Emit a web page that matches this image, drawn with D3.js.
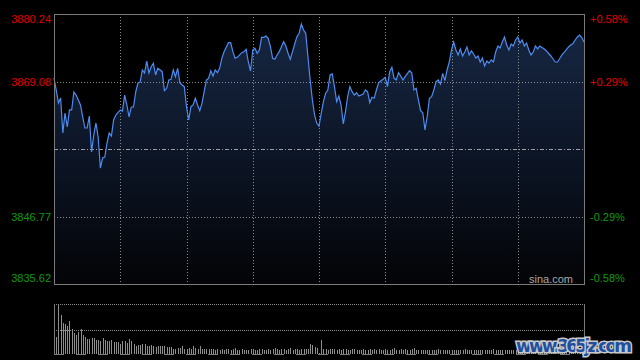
<!DOCTYPE html>
<meta charset="utf-8">
<style>

  body {
    margin: 0;
    background: #000;
    font: 11px "Liberation Sans", Arial, sans-serif;
  }

  .grid line {
    stroke: #8a8a8a;
    stroke-width: 1px;
    stroke-dasharray: 1,2;
    shape-rendering: crispEdges;
  }

  .frame {
    fill: none;
    stroke: #7a7a7a;
    shape-rendering: crispEdges;
  }

  .line {
    fill: none;
    stroke: #4d8cf0;
    stroke-width: 1.2px;
  }

  .vol {
    stroke: #8f8f8f;
    stroke-width: 1px;
    shape-rendering: crispEdges;
  }

</style>
<body>
<script src="https://cdn.jsdelivr.net/npm/d3@7"></script>
<script>

  // Minute index of each read point (0 = 9:30, 120 = 11:30/13:00, 240 = 15:00).
  var minutes = [
    0, 1, 2, 3, 4, 5, 6, 7, 8, 9, 10, 12, 13, 14, 15, 16, 17, 18, 19, 20,
    21, 22, 23, 24, 25, 26, 27, 28, 30, 31, 32, 33, 34, 35, 36, 37, 38, 39, 40, 41,
    42, 43, 44, 45, 46, 47, 49, 50, 51, 52, 53, 54, 55, 56, 57, 58, 59, 60, 61, 62,
    63, 64, 65, 66, 67, 69, 70, 71, 72, 73, 74, 75, 76, 77, 79, 80, 81, 82, 83, 85,
    86, 87, 88, 89, 90, 91, 92, 93, 94, 95, 96, 97, 98, 99, 100, 101, 102, 104, 105, 106,
    107, 108, 109, 110, 111, 112, 113, 114, 115, 116, 117, 118, 119, 120, 121, 122, 123, 124, 125, 126,
    127, 128, 129, 130, 131, 132, 133, 134, 135, 136, 137, 138, 140, 141, 142, 143, 144, 145, 146, 147,
    149, 150, 151, 152, 153, 154, 155, 156, 157, 158, 159, 161, 162, 163, 164, 165, 166, 167, 168, 169,
    170, 171, 172, 173, 174, 175, 176, 177, 178, 179, 180, 181, 182, 183, 184, 185, 186, 187, 188, 189,
    190, 191, 192, 193, 194, 195, 196, 197, 198, 199, 200, 201, 202, 203, 204, 205, 206, 207, 208, 209,
    210, 211, 212, 213, 214, 215, 216, 217, 218, 219, 220, 221, 222, 223, 224, 225, 226, 227, 228, 229,
    230, 231, 232, 233, 234, 235, 236, 237, 238, 239, 240
  ];

  var prices = [
    3869.66, 3867.68, 3865.53, 3866.36, 3860.57, 3863.88, 3861.57, 3864.38, 3864.38, 3867.35,
    3866.85, 3865.20, 3863.22, 3861.40, 3861.40, 3863.38, 3857.43, 3860.24, 3862.23, 3859.91,
    3854.79, 3856.44, 3856.61, 3858.92, 3860.57, 3860.08, 3862.72, 3863.55, 3864.38, 3864.21,
    3866.85, 3865.20, 3863.22, 3864.87, 3864.87, 3867.35, 3868.84, 3869.00, 3870.99, 3870.49,
    3872.47, 3870.49, 3871.53, 3872.09, 3870.16, 3871.27, 3870.71, 3867.57, 3867.96, 3869.33,
    3869.45, 3870.99, 3869.88, 3871.27, 3868.89, 3868.51, 3868.23, 3864.92, 3862.72, 3864.92,
    3865.20, 3866.31, 3865.20, 3864.26, 3865.48, 3869.33, 3869.61, 3870.87, 3869.99, 3870.99,
    3870.54, 3871.27, 3872.92, 3874.01, 3875.50, 3875.50, 3874.01, 3872.92, 3873.08, 3873.85,
    3874.01, 3874.41, 3872.31, 3870.82, 3874.29, 3874.57, 3873.75, 3874.29, 3876.39, 3876.39,
    3876.60, 3876.22, 3874.84, 3872.92, 3872.75, 3873.47, 3874.01, 3875.66, 3874.95, 3873.75,
    3872.75, 3874.01, 3875.28, 3876.49, 3877.05, 3878.59, 3877.60, 3877.05, 3873.18, 3869.33,
    3866.03, 3863.55, 3862.18, 3861.73, 3863.83, 3865.75, 3867.14, 3867.68, 3870.16, 3870.33,
    3868.23, 3865.75, 3866.69, 3865.20, 3862.06, 3864.09, 3866.69, 3868.23, 3867.40, 3866.85,
    3867.23, 3866.69, 3867.02, 3867.68, 3867.40, 3865.58, 3866.47, 3866.31, 3867.68, 3868.89,
    3869.45, 3869.78, 3868.23, 3870.71, 3871.43, 3869.61, 3869.33, 3870.54, 3869.99, 3869.33,
    3869.88, 3870.87, 3870.54, 3867.68, 3867.96, 3866.03, 3864.26, 3863.93, 3861.07, 3863.27,
    3866.31, 3866.57, 3867.68, 3869.05, 3869.33, 3868.67, 3870.44, 3869.22, 3870.99, 3872.31,
    3874.29, 3875.61, 3874.29, 3873.47, 3874.46, 3873.30, 3873.96, 3874.79, 3873.47, 3874.13,
    3873.63, 3872.97, 3873.30, 3872.31, 3872.97, 3871.65, 3872.47, 3872.14, 3872.64, 3872.31,
    3873.96, 3874.95, 3874.62, 3875.61, 3876.44, 3875.12, 3874.29, 3875.28, 3874.95, 3875.94,
    3876.44, 3875.45, 3875.94, 3874.95, 3875.45, 3874.29, 3873.47, 3873.96, 3874.95, 3874.46,
    3874.95, 3874.70, 3874.46, 3874.13, 3873.71, 3873.30, 3872.80, 3872.31, 3872.31, 3872.89,
    3873.47, 3873.88, 3874.37, 3874.79, 3875.12, 3875.37, 3875.94, 3876.44, 3876.77, 3876.36,
    3875.61
  ];

  // Volume per minute, 0..240.
  var volumes = [
    30, 17.5, 49, 39, 31.5, 30, 28, 33, 25, 21.5, 19, 22.5, 25, 19, 17, 15,
    15, 16, 16, 14.3, 13.7, 12.7, 16, 14.3, 12.7, 12.7,
    14.3, 11.7, 11.7, 11.7, 10.3, 12.7, 13.3, 11, 15, 12.7,
    10.3, 8.3, 9.3, 9.3, 10.3, 10.3, 8.3, 8.3, 9.3, 8.3,
    7, 8.3, 7.7, 7.7, 8.3, 7, 7, 7, 5, 5,
    6, 6, 8.3, 5, 5, 6, 5, 7.7, 6, 5,
    7.7, 5, 5, 5, 5, 5, 5, 4.3, 5, 3.7,
    4.7, 4.3, 5, 4.7, 4.3, 4.7,
    6.3,
    4.3, 4, 4.7, 4.3, 3.7, 4.3, 4.7, 5, 4.3, 4.3, 4.7, 5, 4.3, 4, 4.7, 4.3, 5,
    6.3,
    4.7, 4.3, 5, 4.7, 4.3, 4.7,
    5.7,
    4.3, 4.7, 5, 4.3,
    5.3, 5.3, 4.7, 5,
    9.7, 8.7, 7.3, 5.7, 1.3, 13.7,
    4.7, 5, 4.3, 4.7, 5, 5.3, 4.3, 4.7, 4.3, 5,
    4.7, 4, 4.3, 4.7, 5, 4.3, 4, 4.3, 4.7, 4.3,
    4, 4.7, 4.3, 5, 4.3, 4.7, 4, 4.3, 4.7, 4.3,
    4, 4.7,
    6.3,
    4.3, 4, 4.7, 4.3, 4.7, 4.3, 4, 4.7,
    6.3,
    3.7, 4.3, 4, 3.7, 4.3, 4, 3.7, 4.3, 3.7, 4,
    4.7, 4.3, 4, 3.7, 4, 4.3, 3.7, 4, 3.7, 4.3,
    3.7, 4, 5.3, 4.3, 3.7, 4, 4.3, 3.7, 4, 4.3,
    3.7, 4, 3.7, 4.3, 4, 4.7, 4.3, 3.7, 4, 3.7,
    4.3, 4, 3.7, 4.3, 4, 3.7, 4.3, 4, 3.7, 4,
    4.3, 3.7, 4, 4.3, 3.7, 4, 3.7, 4.3, 4, 3.7,
    4, 4.3, 3.7, 4, 4.3, 3.7, 4, 4.3, 4, 3.7,
    4.3, 4, 4.3, 4.7, 4.3, 5, 5.7
  ];

  var prevClose = 3857.93;
  var priceTicks = [3880.24, 3869.08, 3846.77, 3835.62];
  var pctLabels = ["+0.58%", "+0.29%", "-0.29%", "-0.58%"];
  var timeGrid = [30, 60, 90, 120, 150, 180, 210];

  var data = minutes.map(function(m, i) { return {m: m, p: prices[i]}; });

  var plot = {left: 54, right: 584, top: 14, bottom: 284};
  var vol = {top: 304, bottom: 354};

  var x = d3.scaleLinear().domain([0, 240]).range([plot.left, plot.right]);
  var y = d3.scaleLinear().domain([3835.62, 3880.24]).range([plot.bottom, plot.top]);
  var yv = d3.scaleLinear().domain([0, d3.max(volumes)]).range([vol.bottom, vol.top + 1]);

  var svg = d3.select("body").append("svg")
    .attr("width", 640)
    .attr("height", 360);

  var grad = svg.append("defs").append("linearGradient")
    .attr("id", "fillGrad")
    .attr("gradientUnits", "userSpaceOnUse")
    .attr("x1", 0).attr("y1", plot.top)
    .attr("x2", 0).attr("y2", plot.bottom);
  grad.append("stop").attr("offset", "0%").attr("stop-color", "#172845");
  grad.append("stop").attr("offset", "55%").attr("stop-color", "#0c1424");
  grad.append("stop").attr("offset", "100%").attr("stop-color", "#030406");

  // Area under the price line.
  var area = d3.area()
    .x(function(d) { return x(d.m); })
    .y0(plot.bottom)
    .y1(function(d) { return y(d.p); });

  svg.append("path")
    .datum(data)
    .attr("fill", "url(#fillGrad)")
    .attr("d", area);

  // Grid.
  var grid = svg.append("g").attr("class", "grid");

  grid.selectAll(".v")
    .data(timeGrid)
    .enter().append("line")
    .attr("x1", function(d) { return Math.round(x(d)) + 0.5; })
    .attr("x2", function(d) { return Math.round(x(d)) + 0.5; })
    .attr("y1", plot.top)
    .attr("y2", plot.bottom);

  grid.selectAll(".h")
    .data([priceTicks[1], priceTicks[2]])
    .enter().append("line")
    .attr("x1", plot.left)
    .attr("x2", plot.right)
    .attr("y1", function(d) { return Math.round(y(d)) + 0.5; })
    .attr("y2", function(d) { return Math.round(y(d)) + 0.5; });

  // Previous close.
  svg.append("line")
    .attr("x1", plot.left)
    .attr("x2", plot.right)
    .attr("y1", Math.round(y(prevClose)) + 0.5)
    .attr("y2", Math.round(y(prevClose)) + 0.5)
    .attr("stroke", "#a0a0a0")
    .attr("stroke-dasharray", "4,2,1,2")
    .attr("shape-rendering", "crispEdges");

  var line = d3.line()
    .x(function(d) { return x(d.m); })
    .y(function(d) { return y(d.p); });

  svg.append("path")
    .datum(data)
    .attr("class", "line")
    .attr("d", line);

  svg.append("rect")
    .attr("class", "frame")
    .attr("x", plot.left + 0.5)
    .attr("y", plot.top + 0.5)
    .attr("width", plot.right - plot.left)
    .attr("height", plot.bottom - plot.top);

  // Price labels on the left, percent labels on the right.
  function labelDy(i) {
    return i === 0 ? 9 : i === priceTicks.length - 1 ? -2 : 4;
  }

  svg.selectAll(".pl")
    .data(priceTicks)
    .enter().append("text")
    .attr("x", 51)
    .attr("y", function(d, i) { return y(d) + labelDy(i); })
    .attr("text-anchor", "end")
    .attr("fill", function(d) { return d > prevClose ? "#e00000" : "#109a10"; })
    .text(function(d) { return d.toFixed(2); });

  svg.selectAll(".pr")
    .data(priceTicks)
    .enter().append("text")
    .attr("x", 590)
    .attr("y", function(d, i) { return y(d) + labelDy(i); })
    .attr("fill", function(d) { return d > prevClose ? "#e00000" : "#109a10"; })
    .text(function(d, i) { return pctLabels[i]; });

  svg.append("text")
    .attr("x", 573)
    .attr("y", 283)
    .attr("text-anchor", "end")
    .attr("fill", "#a8a8a8")
    .text("sina.com");

  // Volume panel.
  var vg = svg.append("g").attr("class", "grid");
  vg.selectAll("line")
    .data([vol.top, (vol.top + vol.bottom) / 2 + 1])
    .enter().append("line")
    .attr("x1", plot.left)
    .attr("x2", plot.right)
    .attr("y1", function(d) { return Math.round(d) + 0.5; })
    .attr("y2", function(d) { return Math.round(d) + 0.5; })
    .style("stroke-dasharray", "1,1");

  svg.selectAll(".vol")
    .data(volumes)
    .enter().append("line")
    .attr("class", "vol")
    .attr("x1", function(d, i) { return Math.round(x(i)) + 0.5; })
    .attr("x2", function(d, i) { return Math.round(x(i)) + 0.5; })
    .attr("y1", yv(0))
    .attr("y2", function(d) { return yv(d); });

  svg.append("line")
    .attr("x1", plot.left)
    .attr("x2", plot.right)
    .attr("y1", vol.bottom + 0.5)
    .attr("y2", vol.bottom + 0.5)
    .attr("stroke", "#7a7a7a")
    .attr("stroke-dasharray", "10,12")
    .attr("shape-rendering", "crispEdges");

  [plot.left, plot.right].forEach(function(xx) {
    svg.append("line")
      .attr("class", "frame")
      .attr("x1", xx + 0.5).attr("x2", xx + 0.5)
      .attr("y1", vol.top).attr("y2", vol.bottom + 1);
  });

  // Watermark.
  svg.append("text")
    .attr("x", 516)
    .attr("y", 352)
    .attr("fill", "#1f4f9e")
    .attr("stroke", "#c8c8c8")
    .attr("stroke-width", 3)
    .attr("paint-order", "stroke")
    .style("font", "bold 17px 'DejaVu Sans', sans-serif")
    .attr("textLength", 116)
    .text("www.365jz.com");

</script>
